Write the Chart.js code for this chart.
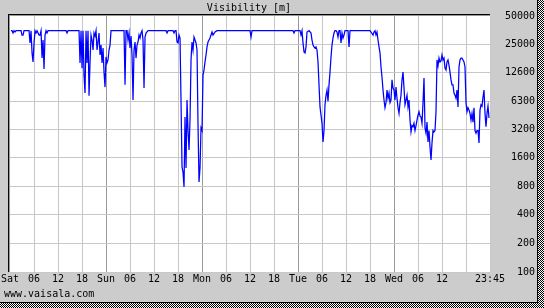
<!DOCTYPE html>
<html>
<head>
<meta charset="utf-8">
<style>
  html, body { margin: 0; padding: 0; background: #cccccc; }
  canvas { display: block; }
</style>
</head>
<body>
<canvas id="chart" width="544" height="308"></canvas>
<script src="https://cdn.jsdelivr.net/npm/chart.js@4/dist/chart.umd.min.js"></script>
<script>
const FONT = "'DejaVu Sans Mono', monospace";

const dayNames = ["Sat", "Sun", "Mon", "Tue", "Wed"];
const hourLabels = ["06", "12", "18"];
const endLabel = "23:45";
const yTicks = [100, 200, 400, 800, 1600, 3200, 6300, 12600, 25000, 50000];

// [hour of day, visibility in m]
const sat = [[0.25,35000],[0.5,35000],[0.75,33100],[1,35000],[1.25,33900],[1.5,35000],[2.75,35000],[3,31500],[3.25,31500],[3.5,35000],[4.75,35000],[5,26000],[5.25,35000],[5.5,20400],[5.75,16400],[6,26000],[6.25,35000],[6.5,33100],[6.75,35000],[7.25,31500],[7.5,31500],[7.75,35000],[8,18000],[8.25,27900],[8.5,13800],[8.75,31500],[9,35000],[9.25,33100],[9.5,35000],[14,35000],[14.25,33100],[14.5,35000],[17.25,35000],[17.5,16000],[17.75,35000],[18,14100],[18.25,35000],[18.5,11900],[18.75,7700],[19,35000],[19.25,16000],[19.5,35000],[19.75,7200],[20,16400],[20.25,31500],[20.5,27900],[20.75,21900],[21,33100],[21.25,30800],[21.5,35000],[21.75,21900],[22,26600],[22.25,33100],[22.5,19400],[22.75,24700],[23,16000],[23.25,23000],[23.5,12800],[23.75,8900]];
const sun = [[0,18500],[0.25,16000],[0.5,17200],[0.75,21900],[1,24700],[1.25,35000],[4.5,35000],[4.75,9400],[5,35000],[5.25,35000],[5.5,27900],[5.75,33100],[6,23000],[6.25,30800],[6.5,19400],[6.75,6500],[7,21900],[7.25,26600],[7.5,18000],[7.75,24700],[8,26600],[8.25,31500],[8.5,29300],[8.75,33100],[9,35000],[9.25,27900],[9.5,8700],[9.75,30000],[10,33100],[10.5,35000],[15,35000],[15.25,33100],[15.5,35000],[16.75,35000],[17,33100],[17.25,35000],[17.5,35000],[17.75,26600],[18,26000],[18.25,31500],[18.5,29300],[18.75,6300],[19,1280],[19.25,1130],[19.5,790],[19.75,4300],[20,1250],[20.25,6500],[20.5,3100],[20.75,1930],[21,4000],[21.25,17200],[21.5,26600],[21.75,21900],[22,30000],[22.25,27900],[22.5,26000],[22.75,21900],[23,3500],[23.25,890],[23.5,1250],[23.75,3300]];
const mon = [[0,3100],[0.25,11900],[0.5,13500],[0.75,16400],[1,19400],[1.25,23600],[1.5,26600],[2,29300],[2.5,33900],[2.75,31500],[3.25,33900],[3.75,35000],[12,35000],[12.25,30000],[12.5,35000],[22.75,35000],[23,33100],[23.25,35000]];
const tue = [[0.5,35000],[0.75,31500],[1,35000],[1.25,26000],[1.5,20900],[1.75,20400],[2,23600],[2.25,33900],[2.75,35000],[3.25,33100],[3.5,27900],[3.75,24700],[4,23600],[4.25,23000],[4.5,23600],[4.75,21900],[5,16400],[5.25,9400],[5.5,5500],[5.75,4500],[6,3700],[6.25,2350],[6.5,3100],[6.75,5800],[7,7300],[7.25,8300],[7.5,6300],[7.75,9400],[8,12800],[8.25,18500],[8.5,24700],[8.75,29300],[9,33100],[9.25,35000],[9.5,35000],[9.75,33900],[10,30000],[10.25,35000],[10.5,35000],[10.75,26000],[11,33100],[11.25,29300],[11.5,31500],[11.75,35000],[12.5,35000],[12.75,23600],[13,35000],[18,35000],[18.25,33900],[18.75,31500],[19,33900],[19.25,35000],[19.5,31500],[19.75,33900],[20,27900],[20.25,23600],[20.5,20400],[20.75,14500],[21,11300],[21.25,8300],[21.5,6500],[21.75,5400],[22,6100],[22.25,8300],[22.5,6800],[22.75,7700],[23,6100],[23.25,6500],[23.5,10600],[23.75,8700]];
const wed = [[0,8300],[0.25,6500],[0.5,8900],[0.75,6800],[1,5400],[1.25,4700],[1.5,6100],[1.75,7300],[2,10600],[2.25,12800],[2.5,8700],[2.75,5800],[3,6500],[3.25,7300],[3.5,5500],[3.75,6500],[4,4000],[4.25,3000],[4.5,3500],[4.75,3400],[5,3700],[5.25,3100],[5.5,3500],[5.75,4000],[6,4500],[6.25,4900],[6.5,4400],[6.75,4300],[7,3700],[7.25,6100],[7.5,11100],[7.75,3300],[8,2900],[8.25,3800],[8.5,2350],[8.75,3100],[9,2080],[9.25,1520],[9.5,2290],[9.75,3100],[10,3000],[10.25,3100],[10.5,4900],[10.75,17200],[11,14900],[11.25,18000],[11.5,16400],[11.75,16800],[12,19400],[12.25,17200],[12.5,18000],[12.75,14100],[13,13500],[13.25,16400],[13.5,17200],[13.75,15200],[14,12800],[14.25,10600],[14.5,9400],[14.75,9400],[15,7700],[15.25,7300],[15.5,6800],[15.75,8300],[16,5500],[16.25,14500],[16.5,17200],[16.75,18000],[17,18000],[17.25,17200],[17.5,16400],[17.75,14500],[18,6100],[18.25,4900],[18.5,5400],[18.75,5100],[19,4700],[19.25,4000],[19.5,4700],[19.75,3800],[20,5400],[20.25,3100],[20.5,2900],[20.75,3100],[21,3100],[21.25,2290],[21.5,5100],[21.75,5800],[22,5600],[22.25,7000],[22.5,8300],[22.75,4700],[23,3400],[23.25,4700],[23.5,5600],[23.75,4200]];

const days = [sat, sun, mon, tue, wed];
const points = [];
days.forEach((day, i) => {
  day.forEach(([h, v]) => points.push({ x: i * 24 + h, y: v }));
});

function xLabel(value) {
  if (value === 120) return endLabel;
  if (value === 114) return "";
  if (value % 24 === 0) return dayNames[value / 24];
  return hourLabels[(value % 24) / 6 - 1];
}

// grey background, sunken plot box, dotted outer frame, title and footer
const framePlugin = {
  id: "frame",
  beforeDraw(chart) {
    const c = chart.ctx;
    const a = chart.chartArea;
    const w = chart.width, h = chart.height;
    c.save();
    c.fillStyle = "#cccccc";
    c.fillRect(0, 0, w, h);
    c.fillStyle = "#ffffff";
    c.fillRect(a.left, a.top, a.right - a.left, a.bottom - a.top);
    c.fillStyle = "#000000";
    c.fillRect(a.left - 2, a.top - 2, a.right - a.left + 2, 1);
    c.fillRect(a.left - 2, a.top - 2, 1, a.bottom - a.top + 2);
    c.fillStyle = "#999999";
    c.fillRect(a.left - 1, a.top - 1, a.right - a.left + 1, 1);
    c.fillRect(a.left - 1, a.top - 1, 1, a.bottom - a.top + 1);

    c.fillStyle = "#ffffff";
    c.fillRect(538, 0, w - 538, h);
    c.fillRect(0, 303, w, h - 303);
    c.fillStyle = "#000000";
    c.fillRect(537, 0, 1, 303);
    c.fillRect(0, 302, 538, 1);
    for (let y = 0; y < h; y++) {
      for (let x = 0; x < w; x++) {
        if ((x >= 538 || y >= 303) && (x + y) % 2 === 0) c.fillRect(x, y, 1, 1);
      }
    }
    c.restore();
  },
  afterDraw(chart) {
    const c = chart.ctx;
    c.save();
    c.fillStyle = "#000000";
    c.font = "10px " + FONT;
    c.textBaseline = "alphabetic";
    c.textAlign = "center";
    c.fillText("Visibility [m]", 249, 11);
    c.textAlign = "left";
    c.fillText("www.vaisala.com", 4, 297);
    c.restore();
  }
};

new Chart(document.getElementById("chart"), {
  type: "line",
  data: {
    datasets: [{
      data: points,
      borderColor: "#0000ff",
      borderWidth: 1.25,
      pointRadius: 0,
      tension: 0,
      fill: false
    }]
  },
  options: {
    responsive: false,
    devicePixelRatio: 1,
    animation: false,
    events: [],
    layout: { padding: { left: 10, top: 16, right: 9, bottom: 0 } },
    plugins: { legend: { display: false }, tooltip: { enabled: false } },
    scales: {
      x: {
        type: "linear",
        min: 0,
        max: 120,
        afterFit: (scale) => { scale.height = 36; },
        ticks: {
          stepSize: 6,
          autoSkip: false,
          maxRotation: 0,
          padding: 1,
          color: "#000000",
          font: { family: FONT, size: 10 },
          callback: xLabel
        },
        grid: {
          drawTicks: false,
          lineWidth: 1,
          color: (ctx) => {
            const v = ctx.tick.value;
            if (v === 0) return "rgba(0,0,0,0)";
            return v % 24 === 0 && v < 120 ? "#999999" : "#c8c8c8";
          }
        },
        border: { display: false }
      },
      y: {
        type: "logarithmic",
        position: "right",
        min: 100,
        max: 50000,
        afterFit: (scale) => { scale.width = 45; },
        afterBuildTicks: (scale) => { scale.ticks = yTicks.map((v) => ({ value: v })); },
        ticks: {
          crossAlign: "far",
          padding: 6,
          color: "#000000",
          font: { family: FONT, size: 10 },
          callback: (v) => String(v)
        },
        grid: {
          drawTicks: false,
          lineWidth: 1,
          color: (ctx) => ctx.tick.value === 50000 ? "rgba(0,0,0,0)" : "#c8c8c8"
        },
        border: { display: false }
      }
    }
  },
  plugins: [framePlugin]
});
</script>
</body>
</html>
